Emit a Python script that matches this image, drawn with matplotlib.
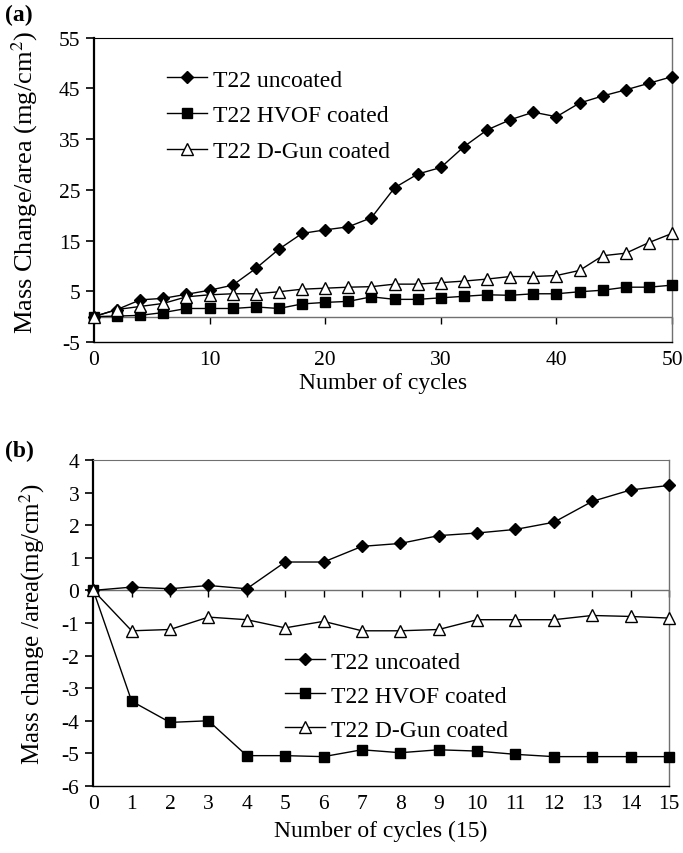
import numpy as np
import matplotlib.pyplot as plt

plt.rcParams['font.family'] = ['Liberation Serif', 'DejaVu Serif']
plt.rcParams['mathtext.fontset'] = 'stix'
plt.rcParams['axes.unicode_minus'] = False

# panel (a): every 2 cycles up to 50
cycles_a = list(range(0, 51, 2))
uncoated_a = [0, 1.4, 3.3, 3.6, 4.4, 5.2, 6.2, 9.5, 13.3, 16.4, 17.1, 17.7, 19.5,
              25.4, 28.1, 29.4, 33.5, 36.8, 38.8, 40.3, 39.4, 42.1, 43.5, 44.7, 46.0, 47.3]
hvof_a = [0, 0.1, 0.25, 0.8, 1.6, 1.6, 1.6, 1.9, 1.6, 2.5, 2.8, 3.0, 3.9,
          3.4, 3.4, 3.7, 4.0, 4.3, 4.2, 4.5, 4.5, 4.9, 5.2, 5.8, 5.8, 6.2]
dgun_a = [0, 1.4, 2.0, 2.6, 3.9, 4.3, 4.5, 4.5, 4.9, 5.4, 5.6, 5.8, 5.9,
          6.4, 6.4, 6.7, 7.0, 7.4, 7.9, 7.9, 8.1, 9.1, 12.0, 12.5, 14.6, 16.4]

# panel (b): 15 cycles
cycles_b = list(range(0, 16))
uncoated_b = [0, 0.1, 0.05, 0.15, 0.05, 0.87, 0.87, 1.35, 1.44, 1.68, 1.76, 1.87,
              2.09, 2.73, 3.08, 3.22]
hvof_b = [0, -3.40, -4.05, -4.0, -5.07, -5.07, -5.1, -4.89, -4.98, -4.89, -4.93,
          -5.03, -5.1, -5.1, -5.1, -5.1]
dgun_b = [0, -1.24, -1.2, -0.82, -0.9, -1.15, -0.95, -1.24, -1.24, -1.2, -0.9,
          -0.9, -0.9, -0.77, -0.8, -0.85]

labels = ['T22 uncoated', 'T22 HVOF coated', 'T22 D-Gun coated']
styles = [dict(marker='D', ms=6.5, mfc='black'),
          dict(marker='s', ms=7, mfc='black'),
          dict(marker='^', ms=8, mfc='white')]

fs_tick = 15.5
fs_lab = 17
fs_leg = 17
grey = '#707070'

fig = plt.figure(figsize=(6.83, 8.54), dpi=100)
ax1 = fig.add_axes([0.1376, 0.5984, 0.8464, 0.3564])
ax2 = fig.add_axes([0.1366, 0.0785, 0.8429, 0.3817])


def style_axes(ax, xt, yt, top_color):
    ax.spines['right'].set_color(grey)
    ax.spines['top'].set_color(top_color)
    ax.spines['left'].set_linewidth(1.6)
    ax.spines['bottom'].set_linewidth(1.0)
    ax.spines['right'].set_linewidth(1.0)
    ax.set_xticks(xt)
    ax.set_yticks(yt)
    ax.tick_params(axis='x', length=0, labelsize=fs_tick, pad=6)
    ax.tick_params(axis='y', direction='out', length=6, width=1.2, labelsize=fs_tick, pad=4)
    ax.axhline(0, color=grey, lw=1.0, zorder=1)
    # tick marks sit on the zero line, labels stay at the bottom
    sec = ax.secondary_xaxis(0, transform=ax.transData)
    sec.set_xticks(xt)
    sec.set_xticklabels([])
    sec.tick_params(direction='out', length=5, width=1.0, color='black')
    sec.spines['bottom'].set_visible(False)


ax = ax1
for y, lab, st in zip([uncoated_a, hvof_a, dgun_a], labels, styles):
    ax.plot(cycles_a, y, color='black', lw=1.0, mec='black', mew=1.0, label=lab,
            clip_on=False, zorder=3, **st)
ax.set_xlim(0, 50)
ax.set_ylim(-5, 55)
style_axes(ax, range(0, 51, 10), range(-5, 56, 10), 'black')
ax.set_xlabel('Number of cycles', fontsize=fs_lab)
ax.xaxis.set_label_coords(0.5, -0.1)
ax.set_ylabel('Mass Change/area (mg/cm$^2$)', fontsize=19)
ax.yaxis.set_label_coords(-0.093, 0.529)
ax.legend(loc='upper left', bbox_to_anchor=(167 / 683, 1 - 70 / 854),
          bbox_transform=fig.transFigure, frameon=False, borderpad=0, borderaxespad=0,
          fontsize=fs_leg, handlelength=1.7, handletextpad=0.25, labelspacing=0.6)

ax = ax2
for y, lab, st in zip([uncoated_b, hvof_b, dgun_b], labels, styles):
    ax.plot(cycles_b, y, color='black', lw=1.0, mec='black', mew=1.0, label=lab,
            clip_on=False, zorder=3, **st)
ax.set_xlim(0, 15)
ax.set_ylim(-6, 4)
style_axes(ax, range(0, 16), range(-6, 5), grey)
ax.set_xlabel('Number of cycles (15)', fontsize=fs_lab)
ax.xaxis.set_label_coords(0.5, -0.105)
ax.set_ylabel('Mass change /area(mg/cm$^2$)', fontsize=18)
ax.yaxis.set_label_coords(-0.08, 0.5)
ax.legend(loc='upper left', bbox_to_anchor=(285 / 683, 1 - 652 / 854),
          bbox_transform=fig.transFigure, frameon=False, borderpad=0, borderaxespad=0,
          fontsize=fs_leg, handlelength=1.7, handletextpad=0.25, labelspacing=0.53)

fig.text(0.008, 0.982, '(a)', fontsize=17, fontweight='bold', va='center')
fig.text(0.008, 0.471, '(b)', fontsize=17, fontweight='bold', va='center')

fig.savefig('out.png', dpi=100)
